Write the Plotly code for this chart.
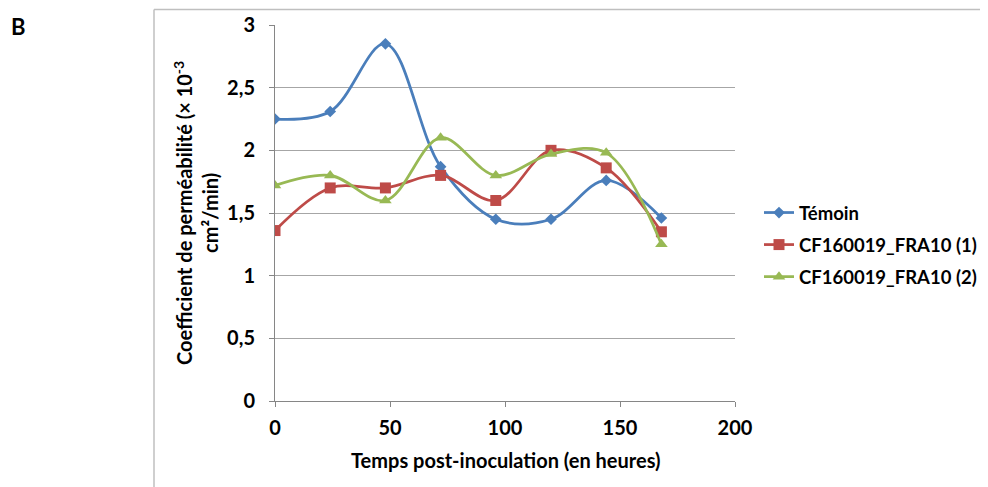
import plotly.graph_objects as go

hours = [0, 24, 48, 72, 96, 120, 144, 168]
temoin = [2.25, 2.31, 2.85, 1.87, 1.45, 1.45, 1.76, 1.46]
fra10_1 = [1.36, 1.70, 1.70, 1.80, 1.60, 2.00, 1.86, 1.35]
fra10_2 = [1.72, 1.80, 1.60, 2.10, 1.80, 1.97, 1.98, 1.25]

series_names = ["Témoin", "CF160019_FRA10 (1)", "CF160019_FRA10 (2)"]
colors = ["#4a7ebb", "#be4b48", "#98b954"]
symbols = ["diamond", "square", "triangle-up"]
msizes = [9, 11, 11]

x_ticks = [0, 50, 100, 150, 200]
y_ticks = [0, 0.5, 1, 1.5, 2, 2.5, 3]

x_title = "Temps post-inoculation (en heures)"
y_title = "Coefficient de perméabilité (× 10<sup>-3</sup><br>cm²/min)"

FONT = "Lato, 'Open Sans', sans-serif"
FS = 19
FT = 20
FL = 18.5

fig = go.Figure()
for name, vals, c, s, ms in zip(series_names, [temoin, fra10_1, fra10_2], colors, symbols, msizes):
    fig.add_trace(go.Scatter(
        x=hours, y=vals, name=name, legendgroup=name, mode="lines+markers",
        line=dict(color=c, width=2.75, shape="spline", smoothing=1.0),
        marker=dict(symbol=s, size=ms, color=c),
    ))

# The page has an 8px body margin: figure coords = page coords - 8.
OFF = 8
W, H = 988 - OFF, 487 - OFF

def px_x(page_x):
    return (page_x - OFF) / W

def px_y(page_y):
    return (H - (page_y - OFF)) / H

# plot area in page pixels
PL, PR, PT, PB = 275, 735, 25, 401

fig.update_layout(
    width=W, height=H,
    margin=dict(l=0, r=0, t=0, b=0, pad=0, autoexpand=False),
    paper_bgcolor="white", plot_bgcolor="white",
    separators=", ",
    font=dict(family=FONT, size=FS, color="black"),
    showlegend=True,
    legend=dict(
        x=px_x(759), y=px_y(194), xanchor="left", yanchor="top",
        font=dict(family=FONT, size=FL, color="black", weight="bold"),
        tracegroupgap=5, itemwidth=30, bgcolor="rgba(0,0,0,0)",
    ),
    xaxis=dict(
        domain=[px_x(PL), px_x(PR)],
        range=[0, 200], tickvals=x_ticks, showgrid=False, zeroline=False,
        showline=True, linecolor="#868686", linewidth=1,
        ticks="outside", ticklen=5, tickcolor="#868686",
        ticklabelstandoff=4, automargin=False,
        tickfont=dict(family=FONT, size=FS + 1, weight="bold"),
    ),
    yaxis=dict(
        domain=[px_y(PB), px_y(PT)],
        range=[0, 3], tickvals=y_ticks, showgrid=True, gridcolor="#a6a6a6", gridwidth=1,
        zeroline=False, showline=True, linecolor="#868686", linewidth=1,
        ticks="outside", ticklen=5, tickcolor="#868686",
        ticklabelstandoff=10, automargin=False,
        tickfont=dict(family=FONT, size=FS + 1, weight="bold"),
    ),
    shapes=[
        dict(type="line", xref="paper", yref="paper",
             x0=px_x(154), x1=px_x(1000),
             y0=px_y(9.5), y1=px_y(9.5),
             line=dict(color="#bfbfbf", width=1.5)),
        dict(type="line", xref="paper", yref="paper",
             x0=px_x(154), x1=px_x(154),
             y0=px_y(9.5), y1=px_y(500),
             line=dict(color="#bfbfbf", width=1.5)),
    ],
    annotations=[
        dict(text="<b>B</b>", xref="paper", yref="paper",
             x=px_x(9), y=px_y(26), xanchor="left", yanchor="middle",
             showarrow=False, font=dict(family=FONT, size=22, color="black")),
        dict(text="<b>" + x_title + "</b>", xref="paper", yref="paper",
             x=px_x((PL + PR) / 2), y=px_y(460), xanchor="center", yanchor="middle",
             showarrow=False, font=dict(family=FONT, size=FT, color="black")),
        dict(text="<b>" + y_title + "</b>", xref="paper", yref="paper", textangle=-90,
             x=px_x(196), y=px_y((PT + PB) / 2), xanchor="center", yanchor="middle",
             showarrow=False, font=dict(family=FONT, size=FT, color="black")),
    ],
)

fig.write_html("out.html")
